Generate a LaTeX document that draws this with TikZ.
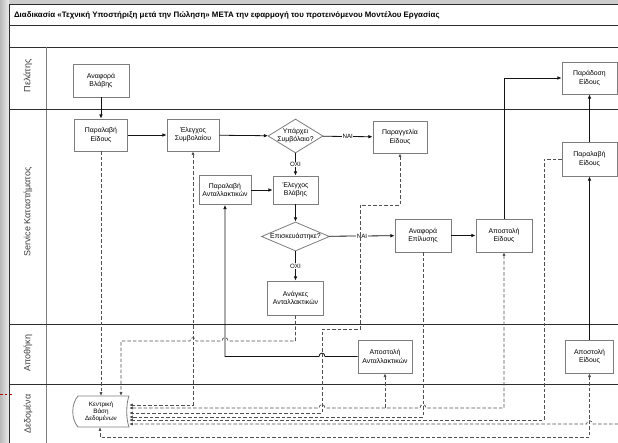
\documentclass[tikz,border=0pt]{standalone}
\usepackage{fontspec}
\setmainfont{Liberation Sans}
\usetikzlibrary{arrows.meta,shapes.geometric}

\definecolor{boxgray}{RGB}{125,125,125}
\definecolor{linecol}{RGB}{20,20,20}
\definecolor{datacol}{RGB}{80,80,80}
\definecolor{framecol}{RGB}{45,45,45}
\definecolor{lanetext}{RGB}{60,60,60}
\definecolor{bggray}{RGB}{205,205,205}

% a small hop where a line crosses another one
\newcommand\hopleft[2]{-- ({#1+3},#2) .. controls ({#1+3},{#2-4.5}) and ({#1-3},{#2-4.5}) .. ({#1-3},#2)}

\begin{document}
\begin{tikzpicture}[x=1pt,y=-1pt,
  box/.style={draw=boxgray,line width=0.8pt,fill=white,align=center,
    font=\fontsize{6.9}{8.2}\selectfont,inner sep=0.5pt},
  dec/.style={diamond,draw=boxgray,line width=0.8pt,fill=white,inner sep=0pt,aspect=2},
  dectext/.style={align=center,inner sep=0pt,font=\fontsize{6.9}{8.2}\selectfont},
  lane/.style={rotate=90,text=lanetext,font=\fontsize{9}{10}\selectfont},
  lbl/.style={fill=white,inner sep=0.4pt,font=\fontsize{6.2}{7}\selectfont},
  flow/.style={draw=linecol,line width=0.8pt,-{Latex[length=4.2pt,width=3.6pt]}},
  data/.style={draw=datacol,line width=0.7pt,dash pattern=on 3.5pt off 2pt},
  dto/.style={data,-{Latex[length=3.6pt,width=3.2pt]}},
  dboth/.style={data,{Latex[length=3.6pt,width=3.2pt]}-{Latex[length=3.6pt,width=3.2pt]}},
  dfrom/.style={data,{Latex[length=3.6pt,width=3.2pt]}-},
  frame/.style={draw=framecol,line width=0.9pt}
]
\useasboundingbox (0,0) rectangle (618,443);

% page background and the white sheet
\fill[bggray] (0,0) rectangle (618,443);
\shade[left color=gray!55,right color=gray!15] (0,0) rectangle (9,443);
\fill[white] (9,4) rectangle (630,450);
\draw[red!70!black,line width=0.6pt,dash pattern=on 2.5pt off 2pt] (0,394) -- (12,394);

% sheet frame, header rows and swimlanes
\draw[frame] (9,450) -- (9,4) -- (630,4);
\draw[frame] (9,25) -- (630,25);
\draw[frame] (9,47) -- (630,47);
\draw[draw=gray,line width=0.8pt] (46,47) -- (46,450);
\draw[frame] (9,109) -- (630,109);
\draw[frame] (9,324) -- (630,324);
\draw[frame] (9,384) -- (630,384);

\node[anchor=west,font=\bfseries\fontsize{7.9}{9}\selectfont] (title) at (10.5,15)
  {Διαδικασία «Τεχνική Υποστήριξη μετά την Πώληση» ΜΕΤΑ την εφαρμογή του προτεινόμενου Μοντέλου Εργασίας};

\node[lane] (lcust) at (28,76) {Πελάτης};
\node[lane] (lserv) at (28,212) {Service Καταστήματος};
\node[lane] (lstore) at (28,353) {Αποθήκη};
\node[lane] (ldata) at (28,414) {Δεδομένα};

% process steps
\node[box,minimum width=56,minimum height=33] (av) at (101,80.5) {Αναφορά\\Βλάβης};
\node[box,minimum width=53,minimum height=32] (pe1) at (101,135) {Παραλαβή\\Είδους};
\node[box,minimum width=52,minimum height=32] (es) at (193,135) {Έλεγχος\\Συμβολαίου};
\node[dec,minimum width=55,minimum height=34] (d1) at (295.5,136) {};
\node[dectext] (d1t) at (d1.center) {Υπάρχει\\Συμβόλαιο?};
\node[box,minimum width=54,minimum height=32] (pa) at (400,137) {Παραγγελία\\Είδους};
\node[box,minimum width=52,minimum height=29] (pant) at (225,190) {Παραλαβή\\Ανταλλακτικών};
\node[box,minimum width=45,minimum height=28] (eb) at (295.5,190) {Έλεγχος\\Βλάβης};
\node[dec,minimum width=68,minimum height=29] (d2) at (295.5,236.5) {};
\node[dectext] (d2t) at (d2.center) {Επισκευάστηκε?};
\node[box,minimum width=56,minimum height=34] (aa) at (295.5,298) {Ανάγκες\\Ανταλλακτικών};
\node[box,minimum width=56,minimum height=33] (ae) at (423,235.5) {Αναφορά\\Επίλυσης};
\node[box,minimum width=56,minimum height=33] (ap1) at (504,235.5) {Αποστολή\\Είδους};
\node[box,minimum width=55,minimum height=32] (pd) at (589.5,78) {Παράδοση\\Είδους};
\node[box,minimum width=55,minimum height=34] (pe2) at (589.5,159) {Παραλαβή\\Είδους};
\node[box,minimum width=54,minimum height=33] (aant) at (385,356.5) {Αποστολή\\Ανταλλακτικών};
\node[box,minimum width=48,minimum height=33] (ap2) at (589.5,356.5) {Αποστολή\\Είδους};

% central database (stored data symbol)
\draw[draw=boxgray,line width=0.8pt,fill=white]
  (78,396) -- (129,396) .. controls (126,404) and (126,419) .. (129,427)
  -- (78,427) .. controls (71,419) and (71,404) .. (78,396);
\node[align=center,minimum width=56,minimum height=31,inner sep=0pt,
  font=\fontsize{6.3}{7}\selectfont] (db) at (101,411.5) {Κεντρική\\Βάση\\Δεδομένων};

% sequence flow
\draw[flow] (av) -- (pe1);
\draw[flow] (pe1) -- (es);
\draw[flow] (es) -- (d1);
\draw[flow] (d1) -- node[lbl] {ΝΑΙ} (pa);
\draw[flow] (d1) -- node[lbl] {ΟΧΙ} (eb);
\draw[flow] (pant) -- (eb);
\draw[flow] (eb) -- (d2);
\draw[flow] (d2) -- node[lbl] {ΝΑΙ} (ae);
\draw[flow] (d2) -- node[lbl] {ΟΧΙ} (aa);
\draw[flow] (ae) -- (ap1);
\draw[flow] (ap1.north) |- (pd.west);
\draw[flow] (pe2) -- (pd);
\draw[flow] (ap2) -- (pe2);
\draw[flow] (aant.west) \hopleft{322}{356.5} -- (pant.south |- aant.west) -- (pant.south);

% data exchange with the central database
\draw[dto] (pe1.south) -- (db.north);
\draw[dboth] (es.south) -- (193,405) -- (db.east |- 0,405);
\draw[dto] (aa.south) -- (aa.south |- 0,341) \hopleft{225}{341} \hopleft{193}{341}
  -- (121,341) -- (121,0 |- db.north);
\draw[dboth] (pa.south) -- (pa.south |- 0,205) -- (360,205) -- (360,329) -- (322,329)
  -- (322,413) -- (db.east |- 0,413);
\draw[dto] (ae.south) -- (ae.south |- 0,417) -- (db.east |- 0,417);
\draw[dboth] (ap1.south) -- (ap1.south |- 0,408) \hopleft{423}{408} \hopleft{322}{408}
  -- (db.east |- 0,408);
\draw[dfrom] (aant.south) -- (aant.south |- 0,408);
\draw[dto] (pe2.west) -- (544,0 |- pe2.west) -- (544,420) -- (db.east |- 0,420);
\coordinate (offr) at (640,424);
\draw[dto] (offr) \hopleft{589.5}{424} -- (db.east |- 0,424);
\draw[dboth] (ap2.south) -- (ap2.south |- 0,437) -- (100,437) -- (100,0 |- db.south);
\end{tikzpicture}
\end{document}
